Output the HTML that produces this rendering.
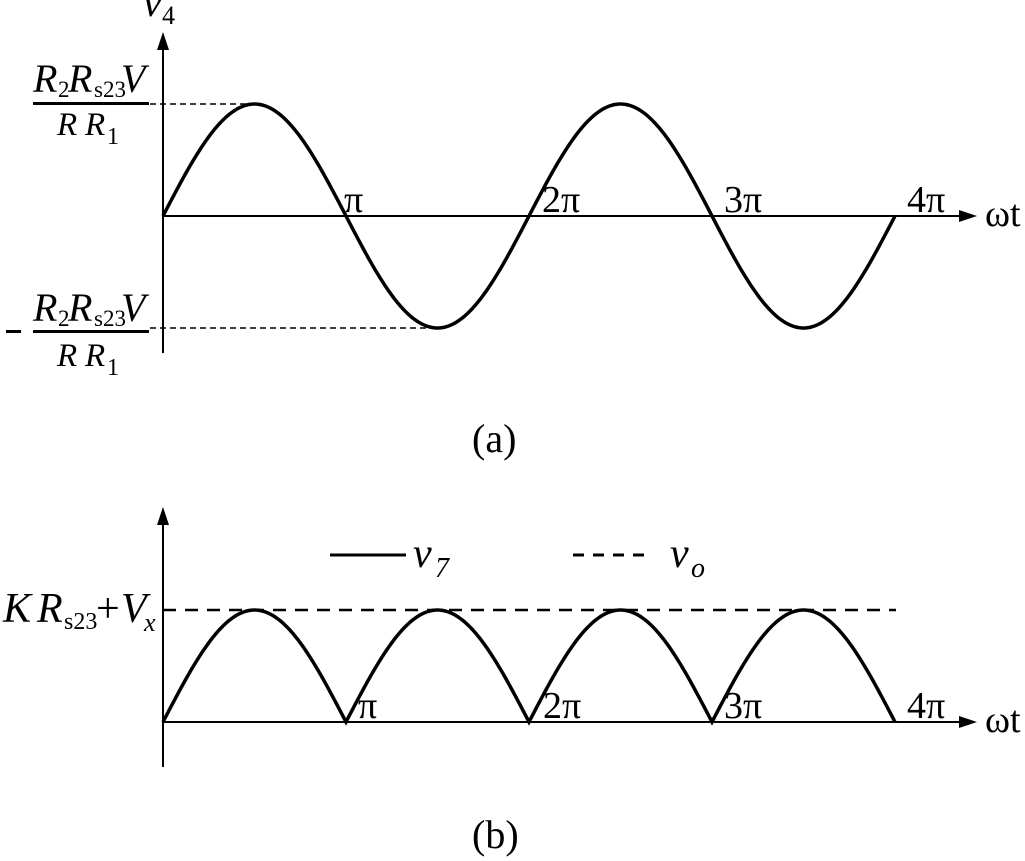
<!DOCTYPE html>
<html><head><meta charset="utf-8"><style>
html,body{margin:0;padding:0;background:#fff;}
svg{display:block;}
text{font-family:"Liberation Serif",serif;fill:#000;}
.i{font-style:italic;}
</style></head><body>
<svg id="s" width="1025" height="861" viewBox="0 0 1025 861" xmlns="http://www.w3.org/2000/svg">
<!-- (a) axes -->
<line x1="163" y1="44" x2="163" y2="353" stroke="#000" stroke-width="2"/>
<polygon points="163,32 157,50 169,50" fill="#000"/>
<line x1="163" y1="216" x2="965" y2="216" stroke="#000" stroke-width="2"/>
<polygon points="977,216 959,210 959,222" fill="#000"/>
<line x1="150" y1="104" x2="255" y2="104" stroke="#000" stroke-width="1.5" stroke-dasharray="6,4"/>
<line x1="150" y1="328" x2="437" y2="328" stroke="#000" stroke-width="1.5" stroke-dasharray="6,4"/>
<path id="sa" fill="none" stroke="#000" stroke-width="3.5"/>
<text x="143" y="16" font-size="42" class="i">v</text><text x="162" y="24" font-size="26">4</text>
<text x="33" y="92" font-size="40" class="i">R</text><text x="58" y="97" font-size="23">2</text><text x="68" y="92" font-size="40" class="i">R</text><text x="94" y="97" font-size="23">s23</text><text x="121" y="92" font-size="40" class="i">V</text>
<rect x="33" y="102" width="116" height="3" fill="#000"/>
<text x="57" y="135" font-size="33" class="i">R</text><text x="85" y="135" font-size="33" class="i">R</text><text x="107" y="144" font-size="24">1</text>
<rect x="6" y="330" width="15" height="3" fill="#000"/>
<text x="33" y="321" font-size="40" class="i">R</text><text x="58" y="326" font-size="23">2</text><text x="68" y="321" font-size="40" class="i">R</text><text x="94" y="326" font-size="23">s23</text><text x="121" y="321" font-size="40" class="i">V</text>
<rect x="33" y="330" width="116" height="3" fill="#000"/>
<text x="57" y="366" font-size="33" class="i">R</text><text x="85" y="366" font-size="33" class="i">R</text><text x="107" y="375" font-size="24">1</text>
<text x="344" y="212" font-size="38">π</text>
<text x="542" y="212" font-size="38">2π</text>
<text x="724" y="212" font-size="38">3π</text>
<text x="907" y="212" font-size="38">4π</text>
<text x="985" y="226" font-size="38">ωt</text>
<text x="472" y="452" font-size="40">(a)</text>
<!-- (b) -->
<line x1="163" y1="520" x2="163" y2="767" stroke="#000" stroke-width="2"/>
<polygon points="163,507 157,525 169,525" fill="#000"/>
<line x1="163" y1="722" x2="965" y2="722" stroke="#000" stroke-width="2"/>
<polygon points="977,722 959,716 959,728" fill="#000"/>
<line x1="163" y1="610" x2="896" y2="610" stroke="#000" stroke-width="2.5" stroke-dasharray="13,9"/>
<path id="sb" fill="none" stroke="#000" stroke-width="3.5"/>
<line x1="330" y1="555" x2="406" y2="555" stroke="#000" stroke-width="3"/>
<line x1="573" y1="555" x2="650" y2="555" stroke="#000" stroke-width="3" stroke-dasharray="11,9"/>
<text x="413" y="567" font-size="42" class="i">v</text><text x="435" y="577" font-size="28" class="i">7</text>
<text x="670" y="567" font-size="42" class="i">v</text><text x="691" y="577" font-size="28" class="i">o</text>
<text x="3" y="622" font-size="42" class="i">K</text><text x="37" y="622" font-size="42" class="i">R</text><text x="64" y="629" font-size="24">s23</text><text x="96" y="622" font-size="42">+</text><text x="121" y="622" font-size="42" class="i">V</text><text x="144" y="631" font-size="26" class="i">x</text>
<text x="358" y="718" font-size="38">π</text>
<text x="543" y="718" font-size="38">2π</text>
<text x="724" y="718" font-size="38">3π</text>
<text x="907" y="718" font-size="38">4π</text>
<text x="985" y="732" font-size="38">ωt</text>
<text x="472" y="848" font-size="40">(b)</text>
</svg>
<script>
(function(){
 var x0=163,H=183;
 var a="",b="";
 for(var i=0;i<=400;i++){
  var t=i/400*4*Math.PI;
  var x=x0+t*H/Math.PI;
  var ya=216-112*Math.sin(t);
  var yb=722-112*Math.abs(Math.sin(t));
  a+=(i?"L":"M")+x.toFixed(2)+","+ya.toFixed(2);
  b+=(i?"L":"M")+x.toFixed(2)+","+yb.toFixed(2);
 }
 document.getElementById("sa").setAttribute("d",a);
 document.getElementById("sb").setAttribute("d",b);
})();
</script>
</body></html>
